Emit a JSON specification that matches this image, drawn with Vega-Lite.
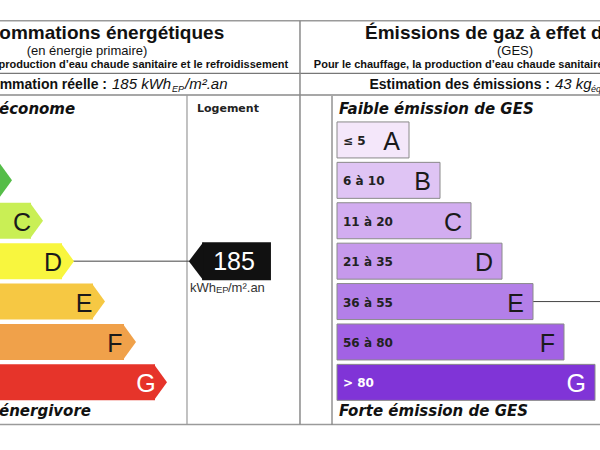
{
  "$schema": "https://vega.github.io/schema/vega-lite/v6.json",
  "width": 600,
  "height": 450,
  "autosize": {"type": "none"},
  "padding": 0,
  "background": "white",
  "config": {"view": {"stroke": null}, "font": "Liberation Sans"},
  "datasets": {
    "energie": [
      {"classe": "A", "rang": 1},
      {"classe": "B", "rang": 2},
      {"classe": "C", "rang": 3},
      {"classe": "D", "rang": 4},
      {"classe": "E", "rang": 5},
      {"classe": "F", "rang": 6},
      {"classe": "G", "rang": 7}
    ],
    "ges": [
      {"classe": "A", "rang": 1, "tranche": "≤ 5"},
      {"classe": "B", "rang": 2, "tranche": "6 à 10"},
      {"classe": "C", "rang": 3, "tranche": "11 à 20"},
      {"classe": "D", "rang": 4, "tranche": "21 à 35"},
      {"classe": "E", "rang": 5, "tranche": "36 à 55"},
      {"classe": "F", "rang": 6, "tranche": "56 à 80"},
      {"classe": "G", "rang": 7, "tranche": "> 80"}
    ],
    "releve": [
      {"classe_energie": "D", "rang_energie": 4, "conso": 185, "classe_ges": "E", "rang_ges": 5, "emission": 43}
    ],
    "vide": [{}]
  },
  "resolve": {"scale": {"x": "independent", "color": "independent"}},
  "layer": [
    {
      "layer": [
        {"data": {"name": "vide"}, "mark": {"type": "rule", "color": "#9a9a9a", "strokeWidth": 1.5},
         "encoding": {"x": {"datum": 1, "type": "quantitative", "scale": {"domain": [2, 21.355], "nice": false, "zero": false}, "axis": null}, "x2": {"datum": 22},
                      "y": {"datum": -1.953, "type": "quantitative", "scale": {"domain": [-2.34, 8.55], "reverse": true, "nice": false, "zero": false}, "axis": null}}},
        {"data": {"name": "vide"}, "mark": {"type": "rule", "color": "#777777", "strokeWidth": 1.2},
         "encoding": {"x": {"datum": 1, "type": "quantitative", "scale": {"domain": [2, 21.355], "nice": false, "zero": false}, "axis": null}, "x2": {"datum": 22},
                      "y": {"datum": -0.646, "type": "quantitative", "scale": {"domain": [-2.34, 8.55], "reverse": true, "nice": false, "zero": false}, "axis": null}}},
        {"data": {"name": "vide"}, "mark": {"type": "rule", "color": "#8a8a8a", "strokeWidth": 1.5},
         "encoding": {"x": {"datum": 1, "type": "quantitative", "scale": {"domain": [2, 21.355], "nice": false, "zero": false}, "axis": null}, "x2": {"datum": 22},
                      "y": {"datum": -0.114, "type": "quantitative", "scale": {"domain": [-2.34, 8.55], "reverse": true, "nice": false, "zero": false}, "axis": null}}},
        {"data": {"name": "vide"}, "mark": {"type": "rule", "color": "#9a9a9a", "strokeWidth": 1.5},
         "encoding": {"x": {"datum": 1, "type": "quantitative", "scale": {"domain": [2, 21.355], "nice": false, "zero": false}, "axis": null}, "x2": {"datum": 22},
                      "y": {"datum": 8.042, "type": "quantitative", "scale": {"domain": [-2.34, 8.55], "reverse": true, "nice": false, "zero": false}, "axis": null}}},
        {"data": {"name": "vide"}, "mark": {"type": "rule", "color": "#9a9a9a", "strokeWidth": 1.2},
         "encoding": {"x": {"datum": 8.032, "type": "quantitative", "scale": {"domain": [2, 21.355], "nice": false, "zero": false}, "axis": null},
                      "y": {"datum": -0.114, "type": "quantitative", "scale": {"domain": [-2.34, 8.55], "reverse": true, "nice": false, "zero": false}, "axis": null}, "y2": {"datum": 8.042}}},
        {"data": {"name": "vide"}, "mark": {"type": "rule", "color": "#8a8a8a", "strokeWidth": 1.5},
         "encoding": {"x": {"datum": 11.677, "type": "quantitative", "scale": {"domain": [2, 21.355], "nice": false, "zero": false}, "axis": null},
                      "y": {"datum": -1.953, "type": "quantitative", "scale": {"domain": [-2.34, 8.55], "reverse": true, "nice": false, "zero": false}, "axis": null}, "y2": {"datum": 8.042}}},
        {"data": {"name": "releve"}, "mark": {"type": "rule", "color": "#444444", "strokeWidth": 1},
         "encoding": {"x": {"field": "rang_energie", "type": "quantitative", "scale": {"domain": [2, 21.355], "nice": false, "zero": false}, "axis": null}, "x2": {"datum": 8.1},
                      "y": {"field": "rang_energie", "type": "quantitative", "scale": {"domain": [-2.34, 8.55], "reverse": true, "nice": false, "zero": false}, "axis": null}}},
        {"data": {"name": "energie"}, "mark": {"type": "bar", "height": 36},
         "encoding": {"x": {"field": "rang", "type": "quantitative", "scale": {"domain": [2, 21.355], "nice": false, "zero": false}, "axis": null}, "x2": {"datum": -3},
                      "y": {"field": "rang", "type": "quantitative", "scale": {"domain": [-2.34, 8.55], "reverse": true, "nice": false, "zero": false}, "axis": null},
                      "color": {"field": "classe", "type": "nominal", "legend": null, "scale": {"domain": ["A", "B", "C", "D", "E", "F", "G"], "range": ["#009a4a", "#55bd48", "#c9ef55", "#f8f63e", "#f6c843", "#f0a14a", "#e6342a"]}}}},
        {"data": {"name": "energie"}, "mark": {"type": "point", "shape": "M -0.06 -1 L 0.667 0 L -0.06 1 Z", "size": 1296, "filled": true, "opacity": 1, "strokeWidth": 0},
         "encoding": {"x": {"field": "rang", "type": "quantitative", "scale": {"domain": [2, 21.355], "nice": false, "zero": false}, "axis": null},
                      "y": {"field": "rang", "type": "quantitative", "scale": {"domain": [-2.34, 8.55], "reverse": true, "nice": false, "zero": false}, "axis": null},
                      "color": {"field": "classe", "type": "nominal", "legend": null, "scale": {"domain": ["A", "B", "C", "D", "E", "F", "G"], "range": ["#009a4a", "#55bd48", "#c9ef55", "#f8f63e", "#f6c843", "#f0a14a", "#e6342a"]}}}},
        {"data": {"name": "energie"}, "mark": {"type": "text", "align": "center", "baseline": "middle", "dx": -9, "dy": 2, "fontSize": 25, "font": "Liberation Sans"},
         "encoding": {"x": {"field": "rang", "type": "quantitative", "scale": {"domain": [2, 21.355], "nice": false, "zero": false}, "axis": null},
                      "y": {"field": "rang", "type": "quantitative", "scale": {"domain": [-2.34, 8.55], "reverse": true, "nice": false, "zero": false}, "axis": null},
                      "text": {"field": "classe"},
                      "color": {"condition": {"test": "datum.classe === 'G'", "value": "#ffffff"}, "value": "#1a1a1a"}}},
        {"data": {"name": "releve"}, "mark": {"type": "bar", "height": 38, "color": "#111111"},
         "encoding": {"x": {"datum": 8.52, "type": "quantitative", "scale": {"domain": [2, 21.355], "nice": false, "zero": false}, "axis": null}, "x2": {"datum": 10.74},
                      "y": {"field": "rang_energie", "type": "quantitative", "scale": {"domain": [-2.34, 8.55], "reverse": true, "nice": false, "zero": false}, "axis": null}}},
        {"data": {"name": "releve"}, "mark": {"type": "point", "shape": "M 0.06 -1 L -0.7 0 L 0.06 1 Z", "size": 1444, "filled": true, "opacity": 1, "strokeWidth": 0, "color": "#111111"},
         "encoding": {"x": {"datum": 8.52, "type": "quantitative", "scale": {"domain": [2, 21.355], "nice": false, "zero": false}, "axis": null},
                      "y": {"field": "rang_energie", "type": "quantitative", "scale": {"domain": [-2.34, 8.55], "reverse": true, "nice": false, "zero": false}, "axis": null}}},
        {"data": {"name": "releve"}, "mark": {"type": "text", "align": "center", "baseline": "middle", "dy": 1, "fontSize": 25, "color": "#ffffff", "font": "Liberation Sans"},
         "encoding": {"x": {"datum": 9.55, "type": "quantitative", "scale": {"domain": [2, 21.355], "nice": false, "zero": false}, "axis": null},
                      "y": {"field": "rang_energie", "type": "quantitative", "scale": {"domain": [-2.34, 8.55], "reverse": true, "nice": false, "zero": false}, "axis": null},
                      "text": {"field": "conso"}}},
        {"data": {"name": "vide"}, "mark": {"type": "text", "text": "kWh", "align": "left", "baseline": "alphabetic", "fontSize": 13, "color": "#333333"},
         "encoding": {"x": {"datum": 8.129, "type": "quantitative", "scale": {"domain": [2, 21.355], "nice": false, "zero": false}, "axis": null},
                      "y": {"datum": 4.775, "type": "quantitative", "scale": {"domain": [-2.34, 8.55], "reverse": true, "nice": false, "zero": false}, "axis": null}}},
        {"data": {"name": "vide"}, "mark": {"type": "text", "text": "EP", "align": "left", "baseline": "alphabetic", "fontSize": 9.5, "color": "#333333"},
         "encoding": {"x": {"datum": 8.968, "type": "quantitative", "scale": {"domain": [2, 21.355], "nice": false, "zero": false}, "axis": null},
                      "y": {"datum": 4.8, "type": "quantitative", "scale": {"domain": [-2.34, 8.55], "reverse": true, "nice": false, "zero": false}, "axis": null}}},
        {"data": {"name": "vide"}, "mark": {"type": "text", "text": "/m².an", "align": "left", "baseline": "alphabetic", "fontSize": 13, "color": "#333333"},
         "encoding": {"x": {"datum": 9.355, "type": "quantitative", "scale": {"domain": [2, 21.355], "nice": false, "zero": false}, "axis": null},
                      "y": {"datum": 4.775, "type": "quantitative", "scale": {"domain": [-2.34, 8.55], "reverse": true, "nice": false, "zero": false}, "axis": null}}},
        {"data": {"name": "vide"}, "mark": {"type": "text", "text": "Consommations énergétiques", "align": "center", "baseline": "alphabetic", "fontSize": 19, "fontWeight": "bold", "color": "#111111"},
         "encoding": {"x": {"datum": 4.839, "type": "quantitative", "scale": {"domain": [2, 21.355], "nice": false, "zero": false}, "axis": null},
                      "y": {"datum": -1.493, "type": "quantitative", "scale": {"domain": [-2.34, 8.55], "reverse": true, "nice": false, "zero": false}, "axis": null}}},
        {"data": {"name": "vide"}, "mark": {"type": "text", "text": "(en énergie primaire)", "align": "center", "baseline": "alphabetic", "fontSize": 13, "color": "#111111"},
         "encoding": {"x": {"datum": 4.806, "type": "quantitative", "scale": {"domain": [2, 21.355], "nice": false, "zero": false}, "axis": null},
                      "y": {"datum": -1.1, "type": "quantitative", "scale": {"domain": [-2.34, 8.55], "reverse": true, "nice": false, "zero": false}, "axis": null}}},
        {"data": {"name": "vide"}, "mark": {"type": "text", "text": "Pour le chauffage, la production d’eau chaude sanitaire et le refroidissement", "align": "center", "baseline": "alphabetic", "fontSize": 11, "fontWeight": "bold", "color": "#111111"},
         "encoding": {"x": {"datum": 4.839, "type": "quantitative", "scale": {"domain": [2, 21.355], "nice": false, "zero": false}, "axis": null},
                      "y": {"datum": -0.79, "type": "quantitative", "scale": {"domain": [-2.34, 8.55], "reverse": true, "nice": false, "zero": false}, "axis": null}}},
        {"data": {"name": "vide"}, "mark": {"type": "text", "text": "Consommation réelle :", "align": "right", "baseline": "alphabetic", "fontSize": 14, "fontWeight": "bold", "color": "#111111"},
         "encoding": {"x": {"datum": 5.452, "type": "quantitative", "scale": {"domain": [2, 21.355], "nice": false, "zero": false}, "axis": null},
                      "y": {"datum": -0.259, "type": "quantitative", "scale": {"domain": [-2.34, 8.55], "reverse": true, "nice": false, "zero": false}, "axis": null}}},
        {"data": {"name": "vide"}, "mark": {"type": "text", "text": "185 kWh", "align": "left", "baseline": "alphabetic", "fontSize": 15, "fontStyle": "italic", "color": "#111111"},
         "encoding": {"x": {"datum": 5.613, "type": "quantitative", "scale": {"domain": [2, 21.355], "nice": false, "zero": false}, "axis": null},
                      "y": {"datum": -0.259, "type": "quantitative", "scale": {"domain": [-2.34, 8.55], "reverse": true, "nice": false, "zero": false}, "axis": null}}},
        {"data": {"name": "vide"}, "mark": {"type": "text", "text": "EP", "align": "left", "baseline": "alphabetic", "fontSize": 9, "fontStyle": "italic", "color": "#111111"},
         "encoding": {"x": {"datum": 7.548, "type": "quantitative", "scale": {"domain": [2, 21.355], "nice": false, "zero": false}, "axis": null},
                      "y": {"datum": -0.186, "type": "quantitative", "scale": {"domain": [-2.34, 8.55], "reverse": true, "nice": false, "zero": false}, "axis": null}}},
        {"data": {"name": "vide"}, "mark": {"type": "text", "text": "/m².an", "align": "left", "baseline": "alphabetic", "fontSize": 15, "fontStyle": "italic", "color": "#111111"},
         "encoding": {"x": {"datum": 7.968, "type": "quantitative", "scale": {"domain": [2, 21.355], "nice": false, "zero": false}, "axis": null},
                      "y": {"datum": -0.259, "type": "quantitative", "scale": {"domain": [-2.34, 8.55], "reverse": true, "nice": false, "zero": false}, "axis": null}}},
        {"data": {"name": "vide"}, "mark": {"type": "text", "text": "Logement", "align": "left", "baseline": "alphabetic", "fontSize": 11, "fontWeight": "bold", "font": "DejaVu Sans", "color": "#222222"},
         "encoding": {"x": {"datum": 8.355, "type": "quantitative", "scale": {"domain": [2, 21.355], "nice": false, "zero": false}, "axis": null},
                      "y": {"datum": 0.298, "type": "quantitative", "scale": {"domain": [-2.34, 8.55], "reverse": true, "nice": false, "zero": false}, "axis": null}}},
        {"data": {"name": "vide"}, "mark": {"type": "text", "text": "économe", "align": "left", "baseline": "alphabetic", "fontSize": 15, "fontWeight": "bold", "fontStyle": "italic", "font": "DejaVu Sans", "color": "#111111"},
         "encoding": {"x": {"datum": 1.968, "type": "quantitative", "scale": {"domain": [2, 21.355], "nice": false, "zero": false}, "axis": null},
                      "y": {"datum": 0.37, "type": "quantitative", "scale": {"domain": [-2.34, 8.55], "reverse": true, "nice": false, "zero": false}, "axis": null}}},
        {"data": {"name": "vide"}, "mark": {"type": "text", "text": "énergivore", "align": "left", "baseline": "alphabetic", "fontSize": 15, "fontWeight": "bold", "fontStyle": "italic", "font": "DejaVu Sans", "color": "#111111"},
         "encoding": {"x": {"datum": 1.968, "type": "quantitative", "scale": {"domain": [2, 21.355], "nice": false, "zero": false}, "axis": null},
                      "y": {"datum": 7.824, "type": "quantitative", "scale": {"domain": [-2.34, 8.55], "reverse": true, "nice": false, "zero": false}, "axis": null}}}
      ]
    },
    {
      "layer": [
        {"data": {"name": "vide"}, "mark": {"type": "rule", "color": "#777777", "strokeWidth": 1.2},
         "encoding": {"x": {"datum": -1.484, "type": "quantitative", "scale": {"domain": [-12.194, 7.161], "nice": false, "zero": false}, "axis": null},
                      "y": {"datum": -0.089, "type": "quantitative", "scale": {"domain": [-2.34, 8.55], "reverse": true, "nice": false, "zero": false}, "axis": null}, "y2": {"datum": 8.042}}},
        {"data": {"name": "releve"}, "mark": {"type": "rule", "color": "#444444", "strokeWidth": 1},
         "encoding": {"x": {"field": "rang_ges", "type": "quantitative", "scale": {"domain": [-12.194, 7.161], "nice": false, "zero": false}, "axis": null}, "x2": {"datum": 7.4},
                      "y": {"field": "rang_ges", "type": "quantitative", "scale": {"domain": [-2.34, 8.55], "reverse": true, "nice": false, "zero": false}, "axis": null}}},
        {"data": {"name": "ges"}, "mark": {"type": "bar", "height": 36, "stroke": "#8a8a8a", "strokeWidth": 1},
         "encoding": {"x": {"field": "rang", "type": "quantitative", "scale": {"domain": [-12.194, 7.161], "nice": false, "zero": false}, "axis": null}, "x2": {"datum": -1.3226},
                      "y": {"field": "rang", "type": "quantitative", "scale": {"domain": [-2.34, 8.55], "reverse": true, "nice": false, "zero": false}, "axis": null},
                      "color": {"field": "classe", "type": "nominal", "legend": null, "scale": {"domain": ["A", "B", "C", "D", "E", "F", "G"], "range": ["#f4e7fa", "#dfc4f4", "#d2adf0", "#c699ec", "#b37fe8", "#a262e4", "#8034d7"]}}}},
        {"data": {"name": "ges"}, "mark": {"type": "text", "align": "left", "baseline": "middle", "dy": 1, "fontSize": 12, "fontWeight": "bold", "font": "DejaVu Sans"},
         "encoding": {"x": {"datum": -1.129, "type": "quantitative", "scale": {"domain": [-12.194, 7.161], "nice": false, "zero": false}, "axis": null},
                      "y": {"field": "rang", "type": "quantitative", "scale": {"domain": [-2.34, 8.55], "reverse": true, "nice": false, "zero": false}, "axis": null},
                      "text": {"field": "tranche"},
                      "color": {"condition": {"test": "datum.classe === 'G'", "value": "#ffffff"}, "value": "#222222"}}},
        {"data": {"name": "ges"}, "mark": {"type": "text", "align": "right", "baseline": "middle", "dx": -9, "dy": 2, "fontSize": 25, "font": "Liberation Sans"},
         "encoding": {"x": {"field": "rang", "type": "quantitative", "scale": {"domain": [-12.194, 7.161], "nice": false, "zero": false}, "axis": null},
                      "y": {"field": "rang", "type": "quantitative", "scale": {"domain": [-2.34, 8.55], "reverse": true, "nice": false, "zero": false}, "axis": null},
                      "text": {"field": "classe"},
                      "color": {"condition": {"test": "datum.classe === 'G'", "value": "#ffffff"}, "value": "#1a1a1a"}}},
        {"data": {"name": "vide"}, "mark": {"type": "text", "text": "Émissions de gaz à effet de serre", "align": "center", "baseline": "alphabetic", "fontSize": 19, "fontWeight": "bold", "color": "#111111"},
         "encoding": {"x": {"datum": 4.419, "type": "quantitative", "scale": {"domain": [-12.194, 7.161], "nice": false, "zero": false}, "axis": null},
                      "y": {"datum": -1.493, "type": "quantitative", "scale": {"domain": [-2.34, 8.55], "reverse": true, "nice": false, "zero": false}, "axis": null}}},
        {"data": {"name": "vide"}, "mark": {"type": "text", "text": "(GES)", "align": "center", "baseline": "alphabetic", "fontSize": 13, "color": "#111111"},
         "encoding": {"x": {"datum": 4.419, "type": "quantitative", "scale": {"domain": [-12.194, 7.161], "nice": false, "zero": false}, "axis": null},
                      "y": {"datum": -1.1, "type": "quantitative", "scale": {"domain": [-2.34, 8.55], "reverse": true, "nice": false, "zero": false}, "axis": null}}},
        {"data": {"name": "vide"}, "mark": {"type": "text", "text": "Pour le chauffage, la production d’eau chaude sanitaire et le refroidissement", "align": "center", "baseline": "alphabetic", "fontSize": 11, "fontWeight": "bold", "color": "#111111"},
         "encoding": {"x": {"datum": 4.387, "type": "quantitative", "scale": {"domain": [-12.194, 7.161], "nice": false, "zero": false}, "axis": null},
                      "y": {"datum": -0.79, "type": "quantitative", "scale": {"domain": [-2.34, 8.55], "reverse": true, "nice": false, "zero": false}, "axis": null}}},
        {"data": {"name": "vide"}, "mark": {"type": "text", "text": "Estimation des émissions :", "align": "right", "baseline": "alphabetic", "fontSize": 14, "fontWeight": "bold", "color": "#111111"},
         "encoding": {"x": {"datum": 5.548, "type": "quantitative", "scale": {"domain": [-12.194, 7.161], "nice": false, "zero": false}, "axis": null},
                      "y": {"datum": -0.259, "type": "quantitative", "scale": {"domain": [-2.34, 8.55], "reverse": true, "nice": false, "zero": false}, "axis": null}}},
        {"data": {"name": "vide"}, "mark": {"type": "text", "text": "43 kg", "align": "left", "baseline": "alphabetic", "fontSize": 15, "fontStyle": "italic", "color": "#111111"},
         "encoding": {"x": {"datum": 5.71, "type": "quantitative", "scale": {"domain": [-12.194, 7.161], "nice": false, "zero": false}, "axis": null},
                      "y": {"datum": -0.259, "type": "quantitative", "scale": {"domain": [-2.34, 8.55], "reverse": true, "nice": false, "zero": false}, "axis": null}}},
        {"data": {"name": "vide"}, "mark": {"type": "text", "text": "éqCO2/m².an", "align": "left", "baseline": "alphabetic", "fontSize": 9, "fontStyle": "italic", "color": "#111111"},
         "encoding": {"x": {"datum": 6.871, "type": "quantitative", "scale": {"domain": [-12.194, 7.161], "nice": false, "zero": false}, "axis": null},
                      "y": {"datum": -0.186, "type": "quantitative", "scale": {"domain": [-2.34, 8.55], "reverse": true, "nice": false, "zero": false}, "axis": null}}},
        {"data": {"name": "vide"}, "mark": {"type": "text", "text": "Faible émission de GES", "align": "left", "baseline": "alphabetic", "fontSize": 15, "fontWeight": "bold", "fontStyle": "italic", "font": "DejaVu Sans", "color": "#111111"},
         "encoding": {"x": {"datum": -1.258, "type": "quantitative", "scale": {"domain": [-12.194, 7.161], "nice": false, "zero": false}, "axis": null},
                      "y": {"datum": 0.37, "type": "quantitative", "scale": {"domain": [-2.34, 8.55], "reverse": true, "nice": false, "zero": false}, "axis": null}}},
        {"data": {"name": "vide"}, "mark": {"type": "text", "text": "Forte émission de GES", "align": "left", "baseline": "alphabetic", "fontSize": 15, "fontWeight": "bold", "fontStyle": "italic", "font": "DejaVu Sans", "color": "#111111"},
         "encoding": {"x": {"datum": -1.258, "type": "quantitative", "scale": {"domain": [-12.194, 7.161], "nice": false, "zero": false}, "axis": null},
                      "y": {"datum": 7.824, "type": "quantitative", "scale": {"domain": [-2.34, 8.55], "reverse": true, "nice": false, "zero": false}, "axis": null}}}
      ]
    }
  ]
}
